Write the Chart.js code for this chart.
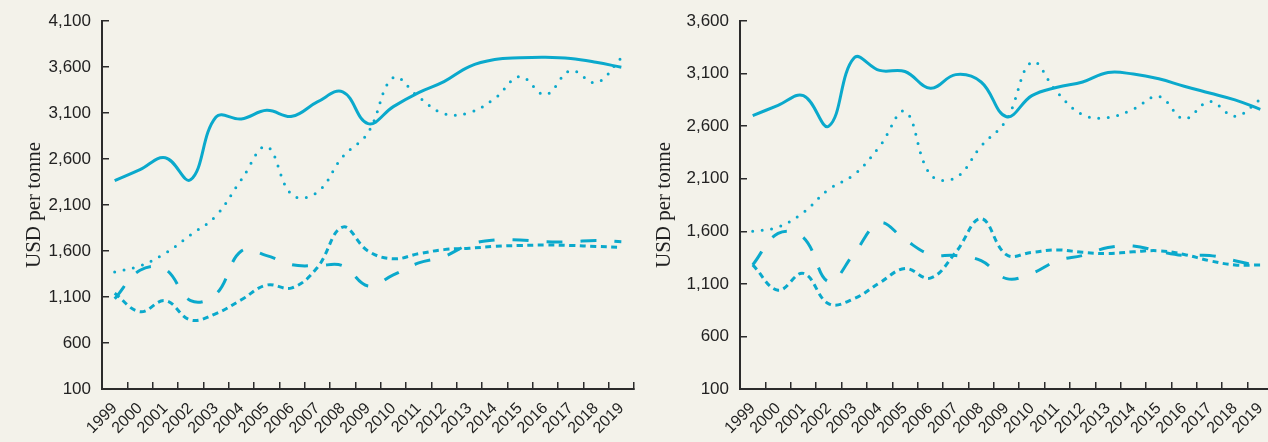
<!DOCTYPE html>
<html>
<head>
<meta charset="utf-8">
<script src="https://cdn.jsdelivr.net/npm/chart.js@4.4.0/dist/chart.umd.min.js"></script>
<style>
    html, body { margin: 0; padding: 0; background: #f3f2ea; }
    body { width: 1268px; height: 442px; overflow: hidden; position: relative; }
    canvas { position: absolute; top: 0; }
    #left { left: 0; }
    #right { left: 640px; }
</style>
</head>
<body>
<canvas id="left" width="640" height="442"></canvas>
<canvas id="right" width="640" height="442"></canvas>
<script>
const years = ["1999","2000","2001","2002","2003","2004","2005","2006","2007","2008","2009",
               "2010","2011","2012","2013","2014","2015","2016","2017","2018","2019"];

// left panel
const leftSolid  = [2364, 2484, 2614, 2375, 3057, 3035, 3129, 3064, 3220, 3330, 2984,
                    3169, 3322, 3441, 3605, 3681, 3700, 3706, 3692, 3651, 3597];
const leftDotted = [1373, 1439, 1577, 1776, 1983, 2375, 2734, 2210, 2240, 2625, 2886,
                    3485, 3273, 3093, 3104, 3257, 3496, 3300, 3561, 3430, 3700];
const leftLong   = [1080, 1390, 1400, 1060, 1130, 1600, 1550, 1450, 1440, 1440, 1220,
                    1340, 1470, 1540, 1670, 1720, 1720, 1700, 1700, 1715, 1700];
const leftShort  = [1140, 940, 1060, 850, 920, 1070, 1230, 1200, 1420, 1860, 1600,
                    1515, 1570, 1615, 1630, 1650, 1660, 1665, 1660, 1650, 1640];
const leftTicks  = [100, 4100, 500];

// right panel
const rightSolid  = [2700, 2797, 2890, 2600, 3250, 3130, 3120, 2960, 3090, 3020, 2690,
                     2890, 2970, 3020, 3110, 3095, 3050, 2980, 2915, 2850, 2760];
const rightDotted = [1600, 1640, 1780, 2000, 2140, 2406, 2740, 2140, 2110, 2410, 2660,
                     3210, 2920, 2710, 2682, 2762, 2882, 2670, 2835, 2695, 2855];
const rightLong   = [1280, 1580, 1540, 1120, 1390, 1680, 1520, 1380, 1370, 1320, 1150,
                     1200, 1320, 1370, 1445, 1460, 1410, 1370, 1370, 1320, 1265];
const rightShort  = [1280, 1040, 1200, 910, 960, 1110, 1245, 1155, 1400, 1720, 1376,
                     1400, 1423, 1400, 1388, 1405, 1415, 1380, 1320, 1280, 1280];
const rightTicks  = [100, 3600, 500];

const lineColor = "#0aa9cc";
const inkColor = "#2b2b2b";

function series(data, dash, cap){
    return {
        data: data,
        borderColor: lineColor,
        borderWidth: 3,
        borderDash: dash,
        borderCapStyle: cap,
        fill: false,
        pointRadius: 0,
        tension: 0.4
    };
}

function makeChart(id, lines, yTicks, areaLeft, padRight, titlePad){
    return new Chart(id, {
        type: "line",
        data: {
            labels: years,
            datasets: [
                series(lines[0], [], "butt"),
                series(lines[1], [0, 9.5], "round"),
                series(lines[2], [16, 18], "butt"),
                series(lines[3], [6, 4.5], "butt")
            ]
        },
        options: {
            responsive: false,
            animation: false,
            devicePixelRatio: 1,
            layout: { padding: { top: 21, right: padRight, left: 0, bottom: 0 } },
            plugins: { legend: { display: false }, tooltip: { enabled: false } },
            scales: {
                x: {
                    offset: true,
                    grid: { offset: true, drawOnChartArea: false, tickLength: -7, color: inkColor, lineWidth: 1.5 },
                    border: { color: inkColor, width: 2 },
                    ticks: {
                        autoSkip: false, maxRotation: 45, minRotation: 45, padding: 17,
                        color: "#222", font: { family: "Liberation Sans", size: 16 }
                    },
                    afterFit: function(scale){
                        // keep the plot wide: no extra room for the rotated end labels
                        scale.height = 53;
                        scale.paddingLeft = 0;
                        scale.paddingRight = 0;
                    }
                },
                y: {
                    min: yTicks[0],
                    max: yTicks[1],
                    grid: { drawOnChartArea: false, tickLength: -7, color: inkColor, lineWidth: 1.5 },
                    border: { color: inkColor, width: 2 },
                    ticks: {
                        stepSize: yTicks[2], padding: 18, color: "#222",
                        font: { family: "Liberation Sans", size: 17 },
                        callback: function(value){ return value.toLocaleString("en-US"); }
                    },
                    title: {
                        display: true, text: "USD per tonne", color: "#222",
                        font: { family: "Liberation Serif", size: 21 },
                        padding: { top: titlePad, bottom: 0 }
                    },
                    afterFit: function(scale){
                        scale.width = areaLeft;
                        scale.paddingTop = 0;
                        scale.paddingBottom = 0;
                    }
                }
            }
        }
    });
}

makeChart("left", [leftSolid, leftDotted, leftLong, leftShort], leftTicks, 102, 6, 22);
makeChart("right", [rightSolid, rightDotted, rightLong, rightShort], rightTicks, 100, 7, 12);
</script>
</body>
</html>
